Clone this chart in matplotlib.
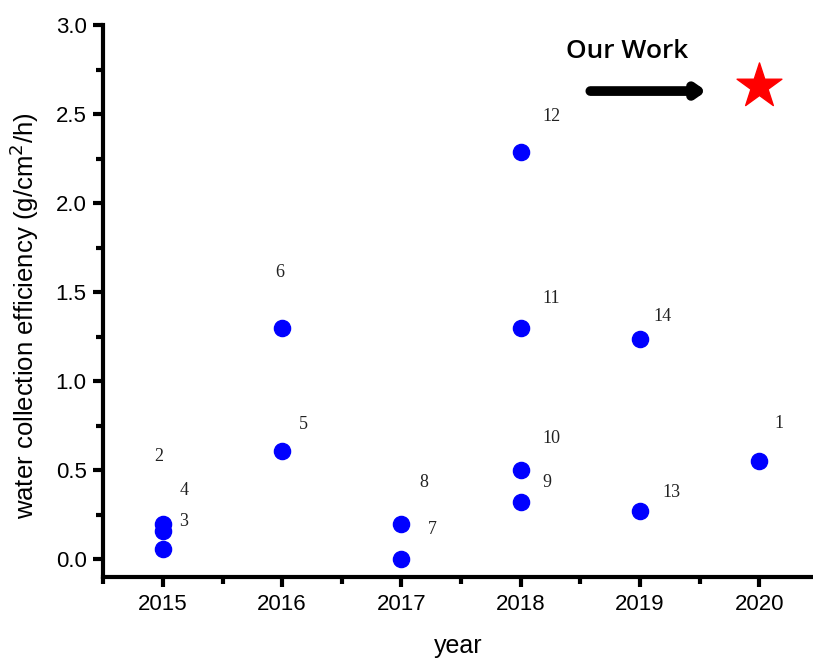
import matplotlib.pyplot as plt
from matplotlib.ticker import MultipleLocator

# --- datos ---
years = [2015, 2015, 2015, 2016, 2016, 2017, 2017, 2018, 2018, 2018, 2018, 2019, 2019, 2020]
efficiency = [0.20, 0.16, 0.06, 1.30, 0.61, 0.20, 0.00, 2.29, 1.30, 0.50, 0.32, 1.24, 0.27, 0.55]
ref_labels = ['3', '4', '2', '6', '5', '8', '7', '12', '11', '10', '9', '14', '13', '1']
# desplazamiento de cada etiqueta (px)
label_offsets = [(21, 2), (21, 40), (-4, 92), (-2, 55), (21, 26), (22, 41), (31, 30),
                 (31, 35), (30, 29), (31, 32), (26, 20), (22, 22), (31, 19), (20, 38)]

our_year = 2020
our_value = 2.66

fig = plt.figure(figsize=(8.13, 6.62), dpi=100)
ax = fig.add_axes([0.127, 0.128, 0.873, 0.834])

ax.scatter(years, efficiency, s=135, color='#0000ff', zorder=3)
ax.scatter([our_year], [our_value], marker='*', s=1150, color='#ff0000', zorder=3)

for x, y, lab, (dx, dy) in zip(years, efficiency, ref_labels, label_offsets):
    ax.annotate(lab, (x, y), xytext=(dx * 0.72, dy * 0.72), textcoords='offset points',
                ha='center', va='center', fontsize=13, family='Liberation Serif', color='#222222')

# flecha "Our Work"
ax.annotate('', xy=(2019.58, 2.63), xytext=(2018.56, 2.63),
            arrowprops=dict(arrowstyle='-|>,head_length=0.5,head_width=0.35', color='black', lw=7))
ax.text(2018.89, 2.85, 'Our Work', ha='center', va='center', fontsize=19,
        family='Open Sans', fontweight='semibold', color='black')

ax.set_xlim(2014.5, 2020.45)
ax.set_ylim(-0.1, 3.0)
ax.xaxis.set_major_locator(MultipleLocator(1))
ax.xaxis.set_minor_locator(MultipleLocator(0.5))
ax.yaxis.set_major_locator(MultipleLocator(0.5))
ax.yaxis.set_minor_locator(MultipleLocator(0.25))
ax.set_yticklabels([f'{v:.1f}' for v in ax.get_yticks()])

for side in ['top', 'right']:
    ax.spines[side].set_visible(False)
for side in ['left', 'bottom']:
    ax.spines[side].set_linewidth(3)

ax.tick_params(which='major', direction='out', length=7, width=3, labelsize=16, pad=5)
ax.tick_params(which='minor', direction='out', length=5, width=3)
for lab in ax.get_xticklabels() + ax.get_yticklabels():
    lab.set_family('Liberation Sans')

ax.set_xlabel('year', fontsize=18, family='Liberation Sans', labelpad=14)
ax.set_ylabel('water collection efficiency (g/cm$^2$/h)', fontsize=18.5, family='Liberation Sans')
ax.yaxis.set_label_coords(-0.088, 0.474)

plt.savefig('out.png', dpi=100)
